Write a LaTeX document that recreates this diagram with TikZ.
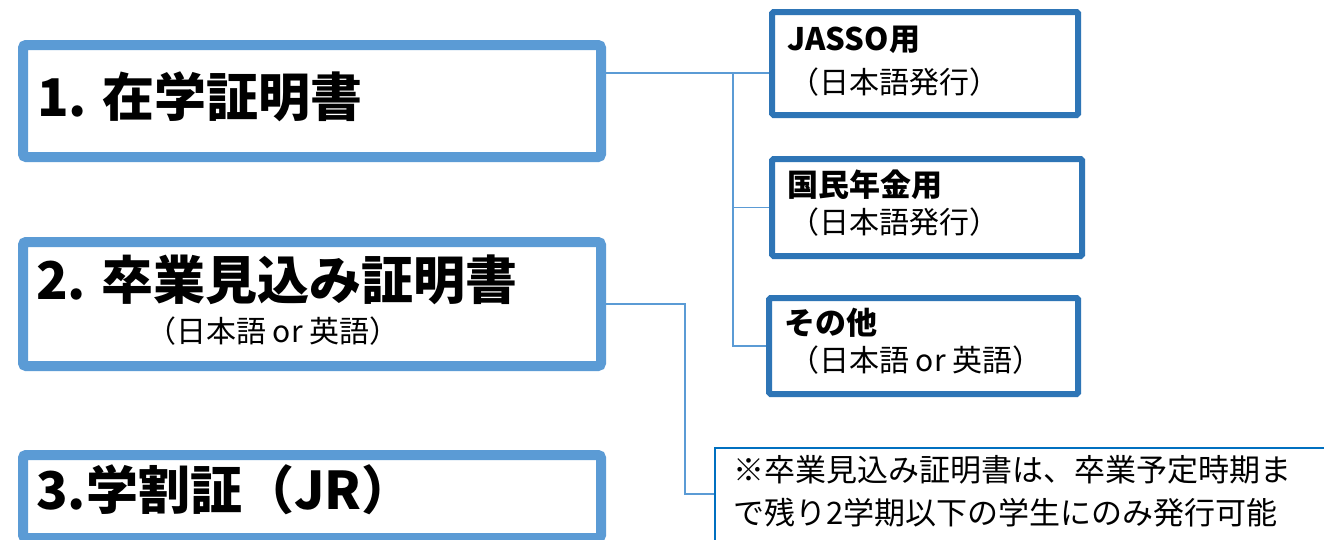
\documentclass[tikz,border=0pt]{standalone}
\usepackage{fontspec}
\setmainfont{Noto Sans CJK JP}
\definecolor{lblue}{HTML}{5B9BD5}
\definecolor{dblue}{HTML}{2E75B6}
\definecolor{nblue}{HTML}{0070C0}
\begin{document}
\begin{tikzpicture}[x=1pt,y=-1pt,
  bigbox/.style={draw=lblue,line width=10pt,rounded corners=3pt,fill=white,inner sep=0pt,anchor=north west},
  subbox/.style={draw=dblue,line width=6pt,rounded corners=1.5pt,fill=white,inner sep=0pt,anchor=north west},
  notebox/.style={draw=nblue,line width=1.6pt,fill=white,inner sep=0pt,anchor=north west},
  conn/.style={draw=lblue,line width=1.2pt},
  bigtxt/.style={anchor=west,inner sep=0pt,font=\fontsize{52}{60}\selectfont\bfseries},
  midtxt/.style={anchor=west,inner sep=0pt,font=\fontsize{31}{36}\selectfont\bfseries},
  subtxt/.style={anchor=west,inner sep=0pt,font=\fontsize{30}{36}\selectfont},
  notetxt/.style={anchor=west,inner sep=0pt,font=\fontsize{31}{36}\selectfont}]
\useasboundingbox[fill=white] (0,0) rectangle (1324,539);
\clip (0,0) rectangle (1324,539);
% left boxes
\node[bigbox,minimum width=578pt,minimum height=112pt] (b1) at (18,40) {};
\node[bigbox,minimum width=578pt,minimum height=124pt] (b2) at (18,237) {};
\node[bigbox,minimum width=578pt,minimum height=83pt] (b3) at (18,450) {};
% right boxes
\node[subbox,minimum width=306pt,minimum height=103pt] (r1) at (769,9) {};
\node[subbox,minimum width=310pt,minimum height=97pt] (r2) at (769,156) {};
\node[subbox,minimum width=309pt,minimum height=96pt] (r3) at (766,295) {};
% note box
\node[notebox,minimum width=620pt,minimum height=100pt] (nb) at (714,447) {};
% connectors
\coordinate (c1) at (733,73);
\coordinate (c2) at (685,494);
\draw[conn] (b1.east |- c1) -- (c1) -- (r1.west |- c1);
\draw[conn] (c1) |- (r2.west);
\draw[conn] (c1) |- (r3.west);
\draw[conn] (b2.east) -| (c2) -- (nb.west |- c2);
% texts
\node[bigtxt] (t1) at (37,97) {1. 在学証明書};
\node[bigtxt] (t2) at (36,280) {2. 卒業見込み証明書};
\node[subtxt] (s2) at (146,331) {（日本語 or 英語）};
\node[bigtxt] (t3) at (36,490) {3.学割証（JR）};
\node[midtxt] (u1) at (787,40) {JASSO用};
\node[subtxt] (v1) at (789,82) {（日本語発行）};
\node[midtxt] (u2) at (787,185) {国民年金用};
\node[subtxt] (v2) at (789,222) {（日本語発行）};
\node[midtxt] (u3) at (784,323) {その他};
\node[subtxt] (v3) at (789,360) {（日本語 or 英語）};
\node[notetxt] (n1) at (733,470) {※卒業見込み証明書は、卒業予定時期ま};
\node[notetxt] (n2) at (733,513) {で残り2学期以下の学生にのみ発行可能};
\end{tikzpicture}
\end{document}
